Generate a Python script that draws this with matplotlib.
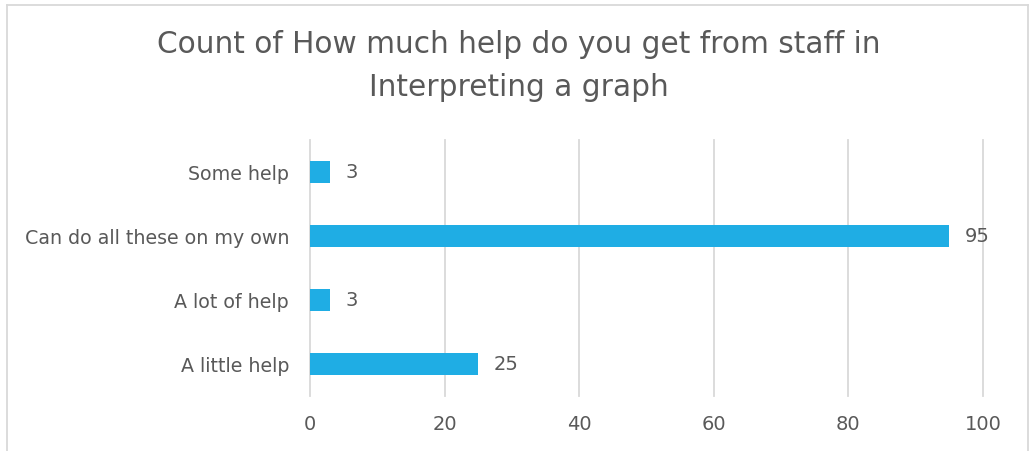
import matplotlib
matplotlib.use("Agg")
import matplotlib.pyplot as plt
from matplotlib.lines import Line2D

categories = ["A little help", "A lot of help", "Can do all these on my own", "Some help"]
counts = [25, 3, 95, 3]
xticks = [0, 20, 40, 60, 80, 100]
title = "Count of How much help do you get from staff in\nInterpreting a graph"

W, H = 1032, 451
fig = plt.figure(figsize=(W / 100, H / 100), dpi=100)
plt.rcParams['font.family'] = ['DejaVu Sans']
txt = '#595959'
bar_color = '#1FADE4'
grid_color = '#D9D9D9'

ax = fig.add_axes([310 / W, 1 - 396 / H, (983 - 310) / W, (396 - 140) / H])
y = list(range(len(categories)))
ax.barh(y, counts, height=0.34, color=bar_color, zorder=3)
ax.set_xlim(0, 100)
ax.set_ylim(-0.5, len(categories) - 0.5)
ax.set_xticks(xticks)
ax.set_xticklabels([str(t) for t in xticks], fontsize=14, color=txt)
ax.set_yticks(y)
ax.set_yticklabels(categories, fontsize=13.7, color=txt)
ax.tick_params(axis='both', length=0)
ax.tick_params(axis='y', pad=15)
ax.tick_params(axis='x', pad=14)
for s in ax.spines.values():
    s.set_visible(False)
for t in xticks:
    ax.axvline(t, color=grid_color, linewidth=1.3, zorder=0, clip_on=False)
for yi, v in zip(y, counts):
    ax.annotate(str(v), (v, yi), xytext=(11, 0), textcoords='offset points',
                va='center', ha='left', fontsize=14, color=txt)

fig.text(519 / W, 1 - 66 / H, title, ha='center', va='center', fontsize=21.3,
         color=txt, linespacing=1.6)

bc = '#D9D9D9'
fig.add_artist(Line2D([7 / W, 7 / W], [0, 1 - 5 / H], transform=fig.transFigure, color=bc, lw=1.3))
fig.add_artist(Line2D([7 / W, 1028 / W], [1 - 5 / H, 1 - 5 / H], transform=fig.transFigure, color=bc, lw=1.3))
fig.add_artist(Line2D([1028 / W, 1028 / W], [0, 1 - 5 / H], transform=fig.transFigure, color=bc, lw=1.3))

fig.savefig("out.png", dpi=100)
